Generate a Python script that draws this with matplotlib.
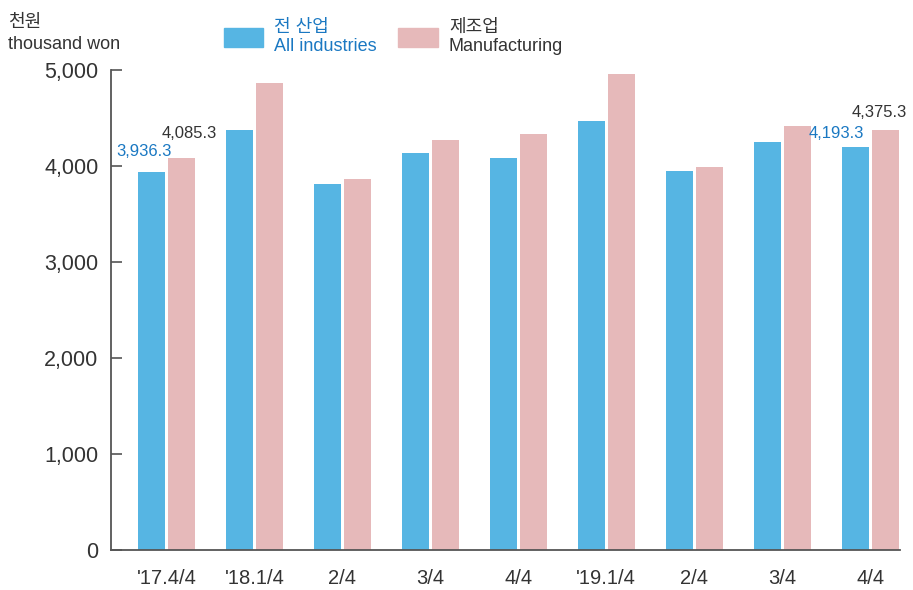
import matplotlib
matplotlib.use("Agg")
import matplotlib.pyplot as plt
from matplotlib.patches import Patch
import numpy as np

# Data (thousand won)
categories = ["'17.4/4", "'18.1/4", "2/4", "3/4", "4/4", "'19.1/4", "2/4", "3/4", "4/4"]
all_industries = [3936.3, 4375, 3813, 4136, 4084, 4469, 3948, 4250, 4193.3]
manufacturing = [4085.3, 4868, 3865, 4271, 4334, 4959, 3990, 4417, 4375.3]
yticks = [0, 1000, 2000, 3000, 4000, 5000]

blue = "#56b5e3"
pink = "#e6b9ba"
blue_text = "#1a78c2"
dark = "#333333"

plt.rcParams["font.family"] = ["Liberation Sans", "Noto Sans CJK KR", "DejaVu Sans"]

fig = plt.figure(figsize=(9.13, 5.9), dpi=100)
ax = fig.add_axes([0.1216, 0.0678, 0.8642, 0.8135])

x = np.arange(len(categories))
w = 0.307
off = 0.17
ax.bar(x - off, all_industries, w, color=blue)
ax.bar(x + off, manufacturing, w, color=pink)

ax.set_xlim(-0.63, 8.34)
ax.set_ylim(0, 5000)
ax.set_yticks(yticks)
ax.set_yticklabels([f"{v:,}" for v in yticks], fontsize=15.5, color=dark)
ax.tick_params(axis="y", direction="in", length=8, width=1.2, color="#555555", pad=9)
ax.set_xticks(x)
ax.set_xticklabels(categories, fontsize=14.5, color=dark)
ax.tick_params(axis="x", length=0, pad=14)
for s in ["top", "right"]:
    ax.spines[s].set_visible(False)
for s in ["left", "bottom"]:
    ax.spines[s].set_color("#555555")
    ax.spines[s].set_linewidth(1.3)

# value labels for first and last periods (offsets in points)
label_offsets = {0: ((5, 9.5), (6, 12)), len(categories) - 1: ((-3.6, 5), (-4, 7))}
for i, (boff, poff) in label_offsets.items():
    ax.annotate(f"{all_industries[i]:,.1f}", (x[i] - off + w / 2, all_industries[i]),
                xytext=boff, textcoords="offset points", ha="right", va="bottom",
                fontsize=12, color=blue_text)
    ax.annotate(f"{manufacturing[i]:,.1f}", (x[i] + off, manufacturing[i]),
                xytext=poff, textcoords="offset points", ha="center", va="bottom",
                fontsize=12, color=dark)

# legend
handles = [Patch(color=blue), Patch(color=pink)]
leg = fig.legend(handles, ["전 산업\nAll industries", "제조업\nManufacturing"], ncol=2,
                 loc="upper left", bbox_to_anchor=(0.231, 0.99), frameon=False,
                 fontsize=13, handlelength=2.2, handleheight=1.25, handletextpad=0.6,
                 columnspacing=1.2, borderaxespad=0.3)
leg.get_texts()[0].set_color(blue_text)
leg.get_texts()[1].set_color(dark)

fig.text(8 / 913, 1 - 14 / 590, "천원\nthousand won", ha="left", va="top",
         fontsize=13, color=dark, linespacing=1.4)

fig.savefig("out.png", dpi=100)
